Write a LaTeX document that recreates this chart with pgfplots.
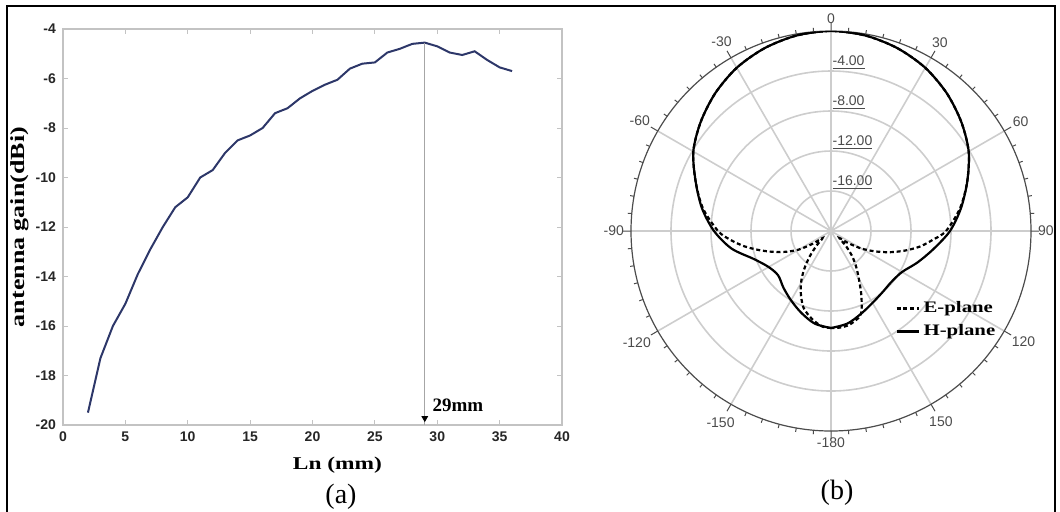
\documentclass[border=0pt]{standalone}
\usepackage{fontspec}
\setmainfont{Liberation Serif}
\newfontfamily\arial{Liberation Sans}
\usepackage{graphicx}
\usepackage{pgfplots}
\usepackage{pgfplotstable}
\pgfplotsset{compat=1.18}
\usepgfplotslibrary{polar}
\definecolor{curveblue}{RGB}{45,55,105}
\definecolor{axgray}{RGB}{195,195,195}
\definecolor{gridgray}{RGB}{205,205,205}
\definecolor{labgray}{RGB}{75,75,75}

\pgfplotstableread{
ln gain
2 -19.5
3 -17.3
4 -16.0
5 -15.1
6 -13.9
7 -12.9
8 -12.0
9 -11.2
10 -10.8
11 -10.0
12 -9.7
13 -9.0
14 -8.5
15 -8.3
16 -8.0
17 -7.4
18 -7.2
19 -6.8
20 -6.5
21 -6.25
22 -6.05
23 -5.6
24 -5.4
25 -5.35
26 -4.95
27 -4.8
28 -4.6
29 -4.55
30 -4.7
31 -4.95
32 -5.05
33 -4.9
34 -5.25
35 -5.55
36 -5.7
}\gaindata

\pgfplotstableread{
th db
-180 -10.3
-175 -10.4
-170 -10.8
-165 -11.3
-160 -11.9
-155 -12.9
-150 -14.0
-145 -15.3
-140 -16.7
-135 -18.0
-130 -18.9
-125 -17.8
-120 -16.3
-115 -15.1
-110 -13.9
-105 -12.6
-100 -11.2
-95 -9.9
-90 -8.7
-80 -7.0
-70 -5.6
-60 -4.1
-50 -3.0
-40 -2.0
-30 -1.15
-20 -0.55
-10 -0.15
0 0
10 -0.15
20 -0.55
30 -1.15
40 -2.0
50 -3.0
60 -4.1
70 -5.5
80 -6.9
90 -8.5
95 -9.8
100 -11.0
105 -12.4
110 -13.8
115 -15.2
120 -16.5
125 -17.9
130 -18.9
135 -17.9
140 -16.7
145 -15.6
150 -14.4
155 -12.8
160 -11.2
165 -10.7
170 -10.4
175 -10.3
180 -10.3
}\edata

\pgfplotstableread{
th db
-180 -10.3
-170 -10.6
-160 -11.3
-150 -12.0
-140 -12.6
-130 -13.1
-120 -12.8
-110 -11.8
-100 -9.9
-90 -8.3
-80 -6.9
-70 -5.6
-60 -4.1
-50 -3.0
-40 -2.0
-30 -1.15
-20 -0.55
-10 -0.15
0 0
10 -0.15
20 -0.55
30 -1.15
40 -2.0
50 -3.0
60 -4.1
70 -5.5
80 -6.8
90 -8.1
100 -9.6
110 -10.8
120 -11.8
130 -12.1
140 -12.0
150 -11.7
160 -11.2
170 -10.6
180 -10.3
}\hdata

\begin{document}
\begin{tikzpicture}
\path[use as bounding box] (0,0) rectangle (530pt,-255.5pt);
\draw[line width=1pt] (3.5pt,-258pt) -- (3.5pt,-3pt) -- (527.5pt,-3pt) -- (527.5pt,-258pt);

\begin{axis}[
  at={(31.5pt,-212.5pt)}, anchor=south west,
  width=249.5pt, height=198pt, scale only axis,
  xmin=0, xmax=40, ymin=-20, ymax=-4,
  xtick={0,5,...,40}, ytick={-20,-18,...,-4},
  axis line style={axgray, line width=0.6pt},
  tick style={axgray, line width=0.5pt},
  major tick length=2.5pt,
  tick align=inside,
  ticklabel style={font=\arial\bfseries\fontsize{7}{8}\selectfont, text=black!85},
  /pgf/number format/assume math mode=true,
  xlabel={\scalebox{1.3}[1]{\bfseries\fontsize{9}{10}\selectfont Ln (mm)}},
  xlabel style={at={(axis description cs:0.55,0)}, anchor=center, yshift=-20pt},
  ylabel={\scalebox{1.3}[1]{\bfseries\fontsize{10}{11}\selectfont antenna gain(dBi)}},
  ylabel style={at={(axis description cs:0,0.5)}, anchor=center, yshift=21.5pt},
]
\addplot[curveblue, line width=1pt] table[x=ln, y=gain] {\gaindata};
\addplot[black!35, line width=0.5pt] coordinates {(29,-4.55) (29,-20)};
\addplot[only marks, mark=triangle*, mark size=1.6pt, mark options={rotate=180, fill=black}] coordinates {(29,-19.72)};
\node[anchor=west, inner sep=0pt, font=\bfseries\fontsize{9.5}{10}\selectfont] at (axis cs:29.6,-19.2) {29mm};
\end{axis}

\node[font=\fontsize{14}{16}\selectfont] at (170.5pt,-248.5pt) {(a)};
\node[font=\fontsize{14}{16}\selectfont] at (418.5pt,-246.5pt) {(b)};

\begin{polaraxis}[
  at={(415.5pt,-115.5pt)}, anchor=center,
  width=200pt, height=200pt, scale only axis,
  ymin=0, ymax=20,
  xtick={0,30,...,330},
  xticklabels={90,60,30,0,-30,-60,-90,-120,-150,-180,150,120},
  minor x tick num=5,
  ytick={4,8,12,16}, yticklabels={},
  ytick style={draw=none},
  y axis line style={draw=none},
  grid=major,
  major grid style={gridgray, line width=0.8pt},
  axis line style={black!70, line width=0.6pt},
  xtick style={black!70, line width=0.5pt},
  xtick align=inside,
  major tick length=4pt, minor tick length=2pt,
  xticklabel style={font=\arial\fontsize{7}{8}\selectfont, text=labgray},
  legend style={at={(0.66,0.335)}, anchor=north west, draw=none, fill=none,
    font=\bfseries\fontsize{8}{9}\selectfont, row sep=0.5pt, inner sep=0pt},
  legend cell align=left,
  legend image code/.code={\draw[#1] (0pt,0pt) -- (11pt,0pt);},
]
\addplot[black, line width=1.1pt, dash pattern=on 2pt off 1.4pt, smooth,
  x filter/.expression={90-x}, y filter/.expression={y+20}]
  table[x=th, y=db] {\edata};
\addlegendentry{\scalebox{1.3}[1]{E-plane}}
\addplot[black, line width=1.1pt, smooth,
  x filter/.expression={90-x}, y filter/.expression={y+20}]
  table[x=th, y=db] {\hdata};
\addlegendentry{\scalebox{1.3}[1]{H-plane}}
\node[anchor=south west, inner sep=0.6pt, font=\arial\fontsize{7}{8}\selectfont, text=labgray] at (axis cs:90,16) {\underline{-4.00}};
\node[anchor=south west, inner sep=0.6pt, font=\arial\fontsize{7}{8}\selectfont, text=labgray] at (axis cs:90,12) {\underline{-8.00}};
\node[anchor=south west, inner sep=0.6pt, font=\arial\fontsize{7}{8}\selectfont, text=labgray] at (axis cs:90,8) {\underline{-12.00}};
\node[anchor=south west, inner sep=0.6pt, font=\arial\fontsize{7}{8}\selectfont, text=labgray] at (axis cs:90,4) {\underline{-16.00}};
\end{polaraxis}
\end{tikzpicture}
\end{document}
